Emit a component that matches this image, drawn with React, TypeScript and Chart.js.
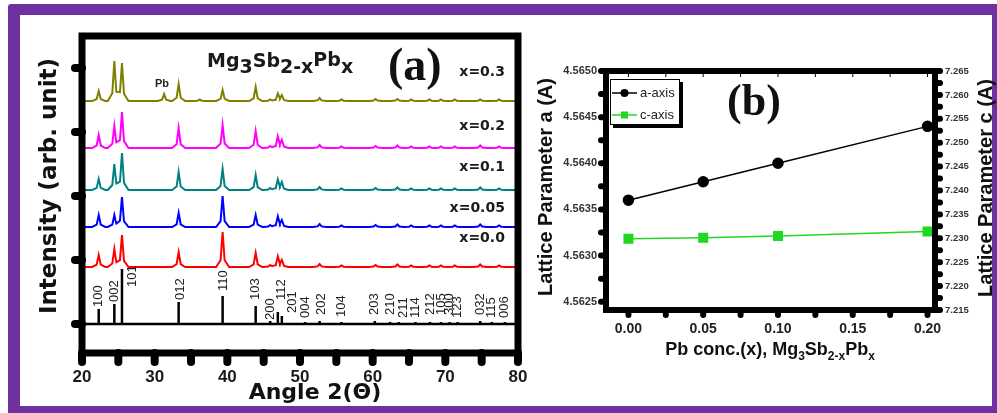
import React, { useEffect, useRef } from 'react';
import { Chart, registerables } from 'chart.js';
Chart.register(...registerables);

// ---------------- Panel (a): XRD patterns ----------------
const peakAngles = [22.3, 24.45, 25.5, 31.3, 33.3, 36.2, 39.35, 43.9, 45.9, 46.95, 47.5, 52.7, 55.7, 60.4, 63.4, 65.3, 67.8, 69.4, 71.3, 74.8, 77.4];
const seriesNames = ['x=0.3', 'x=0.2', 'x=0.1', 'x=0.05', 'x=0.0'];
const seriesOffsets = [223, 176, 134, 97, 57];
const heightsX030 = [10, 40, 38, 7, 17, 1.5, 11, 14, 1.5, 7, 5, 3, 1.5, 2, 2, 1.5, 1.5, 1.5, 1.5, 1.5, 1.5];
const heightsX020 = [13, 22, 36, 0, 20, 0, 23, 17, 2, 11, 7, 3, 1.5, 2, 2.5, 1.5, 1.5, 1.5, 1.5, 2.5, 1.5];
const heightsX010 = [11, 26, 37, 0, 18, 0, 21, 15, 2, 10, 7, 3, 1.5, 2, 2.5, 1.5, 1.5, 1.5, 1.5, 2.5, 1.5];
const heightsX005 = [12, 12, 30, 0, 14, 0, 31, 12, 2, 10, 6, 3, 1.5, 2, 2.5, 1.5, 1.5, 1.5, 1.5, 2.5, 1.5];
const heightsX000 = [12, 18, 32, 0, 15, 0, 35, 14, 2, 10, 6, 3, 1.5, 2, 2.5, 1.5, 1.5, 1.5, 1.5, 2.5, 1.5];
const seriesLabelY = [252, 198, 157, 116, 86];

const refHkl = ['100', '002', '101', '012', '110', '103', '200', '112', '201', '004', '202', '104', '203', '210', '211', '114', '212', '105', '300', '123', '032', '115', '006'];
const refAngles = [22.3, 24.45, 25.5, 33.3, 39.35, 43.9, 45.9, 46.95, 47.5, 50.7, 52.7, 55.7, 60.3, 62.4, 63.6, 65.9, 67.9, 69.4, 70.6, 71.7, 74.8, 76.4, 78.2];
const refHeights = [15, 20, 55, 22, 28, 18, 3, 12, 8, 2, 3, 2, 3, 2, 2, 2, 2, 2, 2, 2, 3, 2, 2];
const refLabelAngles = [22.3, 24.5, 26.9, 33.6, 39.4, 43.9, 45.9, 47.5, 49.0, 50.7, 53.0, 55.7, 60.3, 62.4, 64.2, 65.9, 67.9, 69.4, 70.6, 71.7, 74.8, 76.4, 78.2];
const refLabelBottoms = [17, 22, 37, 24, 33, 24, 4, 24, 11, 6, 9, 7, 9, 9, 6, 6, 9, 9, 9, 6, 9, 6, 6];

const xaTicks = [20, 25, 30, 35, 40, 45, 50, 55, 60, 65, 70, 75, 80];
const xaTickLabels = ['20', '', '30', '', '40', '', '50', '', '60', '', '70', '', '80'];
const yaTicks = [0, 64, 128, 192, 256];

// ---------------- Panel (b): lattice parameters ----------------
const pbConc = [0, 0.05, 0.1, 0.2];
const aAxis = [4.5636, 4.5638, 4.564, 4.5644];
const cAxis = [7.2299, 7.2301, 7.2305, 7.2314];

const xbTicks = [0, 0.025, 0.05, 0.075, 0.1, 0.125, 0.15, 0.175, 0.2];
const xbTickLabels = ['0.00', '', '0.05', '', '0.10', '', '0.15', '', '0.20'];
const ybTicks = [4.5625, 4.56275, 4.563, 4.56325, 4.5635, 4.56375, 4.564, 4.56425, 4.5645, 4.56475, 4.565];
const ybTickLabels = ['4.5625', '', '4.5630', '', '4.5635', '', '4.5640', '', '4.5645', '', '4.5650'];
const y2bTicks = [7.215, 7.2175, 7.22, 7.2225, 7.225, 7.2275, 7.23, 7.2325, 7.235, 7.2375, 7.24, 7.2425, 7.245, 7.2475, 7.25, 7.2525, 7.255, 7.2575, 7.26, 7.2625, 7.265];
const y2bTickLabels = ['7.215', '', '7.220', '', '7.225', '', '7.230', '', '7.235', '', '7.240', '', '7.245', '', '7.250', '', '7.255', '', '7.260', '', '7.265'];

const SANS = '"Liberation Sans", Arial, sans-serif';
const DEJA = '"DejaVu Sans", sans-serif';
const SERIF = '"Liberation Serif", "Times New Roman", serif';

type Part = [string, string, number];

function richText(ctx: CanvasRenderingContext2D, parts: Part[], x: number, y: number, align: 'left' | 'center', color: string) {
  ctx.save();
  ctx.fillStyle = color;
  ctx.textBaseline = 'alphabetic';
  ctx.textAlign = 'left';
  let w = 0;
  parts.forEach((p) => { ctx.font = p[1]; w += ctx.measureText(p[0]).width; });
  let cx = align === 'center' ? x - w / 2 : x;
  parts.forEach((p) => {
    ctx.font = p[1];
    ctx.fillText(p[0], cx, y + p[2]);
    cx += ctx.measureText(p[0]).width;
  });
  ctx.restore();
}

function rotText(ctx: CanvasRenderingContext2D, text: string, x: number, y: number, font: string, color: string, align: CanvasTextAlign) {
  ctx.save();
  ctx.translate(x, y);
  ctx.rotate(-Math.PI / 2);
  ctx.font = font;
  ctx.fillStyle = color;
  ctx.textAlign = align;
  ctx.textBaseline = 'middle';
  ctx.fillText(text, 0, 0);
  ctx.restore();
}

function plainText(ctx: CanvasRenderingContext2D, text: string, x: number, y: number, font: string, color: string, align: CanvasTextAlign, baseline: CanvasTextBaseline) {
  ctx.save();
  ctx.font = font;
  ctx.fillStyle = color;
  ctx.textAlign = align;
  ctx.textBaseline = baseline;
  ctx.fillText(text, x, y);
  ctx.restore();
}

// peak profile: a narrow sharp part plus a broader foot (style of the line shape)
const profile: [number, number][] = [[0.28, 0.72], [0.9, 0.28]];

function buildPattern(offset: number, heights: number[]) {
  const xs: number[] = [20, 80];
  peakAngles.forEach((a, i) => {
    if (heights[i] > 0) {
      xs.push(a);
      profile.forEach(([hw]) => xs.push(a - hw, a + hw));
    }
  });
  xs.sort((p, q) => p - q);
  return xs.map((x) => {
    let y = offset;
    peakAngles.forEach((a, i) => {
      const d = Math.abs(x - a);
      profile.forEach(([hw, f]) => {
        if (d < hw) y += heights[i] * f * (1 - d / hw);
      });
    });
    return { x, y };
  });
}

function buildSticks() {
  const pts: { x: number; y: number }[] = [{ x: 20, y: 0 }];
  refAngles.forEach((a, i) => {
    pts.push({ x: a, y: 0 }, { x: a, y: refHeights[i] }, { x: a, y: 0 });
  });
  pts.push({ x: 80, y: 0 });
  return pts;
}

// frame + round tick marks drawn from the chart's own scales
const framePlugin = (lw: number, tick: { [k: string]: [number, number] }, topInner = 0) => ({
  id: 'frame',
  afterDatasetsDraw(chart: any) {
    const { left, top, right, bottom } = chart.chartArea;
    const ctx = chart.ctx as CanvasRenderingContext2D;
    ctx.save();
    ctx.strokeStyle = '#000';
    ctx.lineCap = 'round';
    Object.keys(tick).forEach((id) => {
      const s = chart.scales[id];
      const [len, w] = tick[id];
      ctx.lineWidth = w;
      s.ticks.forEach((t: any) => {
        const p = s.getPixelForValue(t.value);
        ctx.beginPath();
        if (s.position === 'bottom') { ctx.moveTo(p, bottom); ctx.lineTo(p, bottom + len); }
        else if (s.position === 'left') { ctx.moveTo(left, p); ctx.lineTo(left - len, p); }
        else { ctx.moveTo(right, p); ctx.lineTo(right + len, p); }
        ctx.stroke();
      });
    });
    if (topInner > 0) {
      const s = chart.scales.x;
      ctx.lineCap = 'butt';
      ctx.lineWidth = 1;
      s.ticks.forEach((t: any) => {
        const p = s.getPixelForValue(t.value);
        ctx.beginPath();
        ctx.moveTo(p, top);
        ctx.lineTo(p, top + lw / 2 + topInner);
        ctx.stroke();
      });
    }
    ctx.lineCap = 'butt';
    ctx.lineWidth = lw;
    ctx.strokeRect(left, top, right - left, bottom - top);
    ctx.restore();
  },
});

const hiddenGrid = (len: number) => ({ drawOnChartArea: false, drawTicks: true, tickLength: len, tickWidth: 1, tickColor: 'rgba(0,0,0,0)' });

function makeChartA(canvas: HTMLCanvasElement) {
  const colors = ['#808000', '#ff00ff', '#008080', '#0000ff', '#ff0000'];
  const heightSets = [heightsX030, heightsX020, heightsX010, heightsX005, heightsX000];
  const datasets: any[] = [
    { data: buildSticks(), borderColor: '#000', borderWidth: 2.5, pointRadius: 0 },
  ];
  for (let i = heightSets.length - 1; i >= 0; i--) {
    datasets.push({ label: seriesNames[i], data: buildPattern(seriesOffsets[i], heightSets[i]), borderColor: colors[i], borderWidth: 2, pointRadius: 0 });
  }
  const textPlugin = {
    id: 'textsA',
    afterDraw(chart: any) {
      const ctx = chart.ctx as CanvasRenderingContext2D;
      const xs = chart.scales.x;
      const ys = chart.scales.y;
      const F = `bold 19px ${DEJA}`;
      richText(ctx, [['Mg', F, 0], ['3', F, 6], ['Sb', F, 0], ['2-x', F, 6], ['Pb', F, -1], ['x', F, 6]], 207, 67, 'left', '#1a1a1a');
      plainText(ctx, '(a)', 388, 80, `bold 46px ${SERIF}`, '#111', 'left', 'alphabetic');
      plainText(ctx, 'Pb', xs.getPixelForValue(31.0), ys.getPixelForValue(240), `bold 11px ${SANS}`, '#222', 'center', 'middle');
      seriesNames.forEach((n, i) => {
        plainText(ctx, n, xs.getPixelForValue(78.2), ys.getPixelForValue(seriesLabelY[i]), `bold 14px ${DEJA}`, '#1a1a1a', 'right', 'middle');
      });
      refHkl.forEach((h, i) => {
        rotText(ctx, h, xs.getPixelForValue(refLabelAngles[i]), ys.getPixelForValue(refLabelBottoms[i]), `13px ${SANS}`, '#222', 'left');
      });
      rotText(ctx, 'Intensity (arb. unit)', 50, 186, `bold 23px ${DEJA}`, '#111', 'center');
      plainText(ctx, 'Angle 2(Θ)', 315, 399, `bold 22px ${DEJA}`, '#111', 'center', 'alphabetic');
    },
  };
  return new Chart(canvas, {
    type: 'line',
    data: { datasets },
    options: {
      animation: false,
      responsive: false,
      maintainAspectRatio: false,
      parsing: false as any,
      layout: { padding: { top: 36, right: 12, bottom: 0, left: 0 } },
      plugins: { legend: { display: false }, tooltip: { enabled: false } },
      elements: { line: { tension: 0 }, point: { radius: 0 } },
      scales: {
        x: {
          type: 'linear',
          min: 20,
          max: 80,
          afterFit: (s: any) => { s.height = 60; },
          afterBuildTicks: (s: any) => { s.ticks = xaTicks.map((v) => ({ value: v })); },
          ticks: {
            autoSkip: false,
            maxRotation: 0,
            padding: 2,
            color: '#1a1a1a',
            font: { family: SANS, weight: 'bold', size: 17 },
            callback: (_v: any, i: number) => xaTickLabels[i],
          },
          grid: hiddenGrid(12),
          border: { display: false },
        },
        y: {
          type: 'linear',
          min: -29,
          max: 288,
          afterFit: (s: any) => { s.width = 82; },
          afterBuildTicks: (s: any) => { s.ticks = yaTicks.map((v) => ({ value: v })); },
          ticks: { callback: () => '' },
          grid: hiddenGrid(10),
          border: { display: false },
        },
      },
    } as any,
    plugins: [framePlugin(7, { x: [9, 8], y: [7, 8] }), textPlugin],
  });
}

function makeChartB(canvas: HTMLCanvasElement) {
  const green = '#1fd81f';
  const textPlugin = {
    id: 'textsB',
    afterDraw(chart: any) {
      const ctx = chart.ctx as CanvasRenderingContext2D;
      plainText(ctx, '(b)', 224, 115, `bold 44px ${SERIF}`, '#111', 'center', 'alphabetic');
      rotText(ctx, 'Lattice Parameter a (A)', 16, 187, `bold 20px ${SANS}`, '#111', 'center');
      rotText(ctx, 'Lattice Parameter c (A)', 456, 188, `bold 20px ${SANS}`, '#111', 'center');
      const B = `bold 18px ${SANS}`;
      const S = `bold 12px ${SANS}`;
      richText(ctx, [['Pb conc.(x), Mg', B, 0], ['3', S, 5], ['Sb', B, 0], ['2-x', S, 5], ['Pb', B, 0], ['x', S, 5]], 240, 355, 'center', '#111');
      // legend
      ctx.save();
      ctx.fillStyle = '#000';
      ctx.fillRect(83, 82, 70, 46);
      ctx.fillStyle = '#fff';
      ctx.fillRect(80, 79, 70, 46);
      ctx.strokeStyle = '#000';
      ctx.lineWidth = 1;
      ctx.strokeRect(80.5, 79.5, 69, 45);
      ctx.lineWidth = 1.5;
      ctx.beginPath();
      ctx.moveTo(82, 93);
      ctx.lineTo(107, 93);
      ctx.stroke();
      ctx.beginPath();
      ctx.arc(94.5, 93, 4, 0, Math.PI * 2);
      ctx.fillStyle = '#000';
      ctx.fill();
      ctx.strokeStyle = green;
      ctx.beginPath();
      ctx.moveTo(82, 115);
      ctx.lineTo(107, 115);
      ctx.stroke();
      ctx.fillStyle = green;
      ctx.fillRect(91, 111.5, 7, 7);
      ctx.restore();
      plainText(ctx, 'a-axis', 110, 93, `13px ${SANS}`, '#222', 'left', 'middle');
      plainText(ctx, 'c-axis', 110, 115, `13px ${SANS}`, '#222', 'left', 'middle');
    },
  };
  return new Chart(canvas, {
    type: 'line',
    data: {
      datasets: [
        {
          label: 'a-axis',
          data: pbConc.map((x, i) => ({ x, y: aAxis[i] })),
          yAxisID: 'y',
          borderColor: '#000',
          borderWidth: 1.5,
          pointRadius: 5,
          pointStyle: 'circle',
          pointBackgroundColor: '#000',
          pointBorderColor: '#000',
        },
        {
          label: 'c-axis',
          data: pbConc.map((x, i) => ({ x, y: cAxis[i] })),
          yAxisID: 'y2',
          borderColor: green,
          borderWidth: 1.5,
          pointRadius: 6,
          pointStyle: 'rect',
          pointBackgroundColor: green,
          pointBorderColor: green,
        },
      ],
    },
    options: {
      animation: false,
      responsive: false,
      maintainAspectRatio: false,
      parsing: false as any,
      layout: { padding: { top: 71, right: 0, bottom: 0, left: 0 } },
      plugins: { legend: { display: false }, tooltip: { enabled: false } },
      elements: { line: { tension: 0 } },
      scales: {
        x: {
          type: 'linear',
          min: -0.015,
          max: 0.205,
          afterFit: (s: any) => { s.height = 103; },
          afterBuildTicks: (s: any) => { s.ticks = xbTicks.map((v) => ({ value: v })); },
          ticks: {
            autoSkip: false,
            maxRotation: 0,
            padding: 2,
            color: '#222',
            font: { family: SANS, weight: 'bold', size: 14 },
            callback: (_v: any, i: number) => xbTickLabels[i],
          },
          grid: hiddenGrid(9),
          border: { display: false },
        },
        y: {
          type: 'linear',
          position: 'left',
          min: 4.56241,
          max: 4.565,
          afterFit: (s: any) => { s.width = 76; },
          afterBuildTicks: (s: any) => { s.ticks = ybTicks.map((v) => ({ value: v })); },
          ticks: {
            autoSkip: false,
            padding: 1,
            color: '#333',
            font: { family: SANS, weight: 'bold', size: 11 },
            callback: (_v: any, i: number) => ybTickLabels[i],
          },
          grid: hiddenGrid(8),
          border: { display: false },
        },
        y2: {
          type: 'linear',
          position: 'right',
          min: 7.215,
          max: 7.265,
          afterFit: (s: any) => { s.width = 62; },
          afterBuildTicks: (s: any) => { s.ticks = y2bTicks.map((v) => ({ value: v })); },
          ticks: {
            autoSkip: false,
            padding: 1,
            color: '#333',
            font: { family: SANS, weight: 'bold', size: 9.5 },
            callback: (_v: any, i: number) => y2bTickLabels[i],
          },
          grid: hiddenGrid(9),
          border: { display: false },
        },
      },
    } as any,
    plugins: [framePlugin(6, { x: [5, 6], y: [5, 6], y2: [5, 6] }, 3), textPlugin],
  });
}

export default function App() {
  const ref1 = useRef<HTMLCanvasElement>(null);
  const ref2 = useRef<HTMLCanvasElement>(null);
  useEffect(() => {
    const c1 = makeChartA(ref1.current!);
    const c2 = makeChartB(ref2.current!);
    return () => {
      c1.destroy();
      c2.destroy();
    };
  }, []);
  return (
    <div style={{ position: 'fixed', left: 0, top: 0, width: 997, height: 413, background: '#fff', overflow: 'hidden' }}>
      <div
        style={{
          position: 'absolute',
          left: 8,
          top: 4,
          width: 996,
          height: 414,
          boxSizing: 'border-box',
          borderStyle: 'solid',
          borderColor: '#7031a0',
          borderWidth: '11px 12px 12px 12px',
          borderRadius: 3,
          background: '#fff',
        }}
      />
      <canvas ref={ref1} width={530} height={413} style={{ position: 'absolute', left: 0, top: 0, width: 530, height: 413 }} />
      <canvas ref={ref2} width={467} height={413} style={{ position: 'absolute', left: 530, top: 0, width: 467, height: 413 }} />
    </div>
  );
}
